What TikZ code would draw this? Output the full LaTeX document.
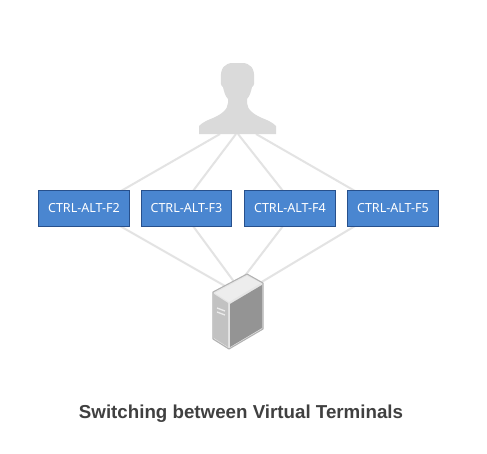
\documentclass[tikz,border=0pt]{standalone}
\usepackage{fontspec}
\usetikzlibrary{backgrounds}
\setmainfont{Noto Sans}
\newfontfamily\titlefont{Liberation Sans}
\definecolor{boxblue}{HTML}{4A86D0}
\definecolor{boxedge}{HTML}{27508C}
\definecolor{linegray}{HTML}{E3E3E3}
\definecolor{persongray}{HTML}{DADADA}
\tikzset{
  x=0.75pt,y=-0.75pt,
  keybox/.style={draw=boxedge,fill=boxblue,line width=0.7pt,minimum width=68pt,minimum height=26.5pt,inner sep=0pt,text height=5.5pt,text depth=0pt,text=white,font=\fontsize{9.4pt}{11pt}\selectfont},
  link/.style={draw=linegray,line width=1.5pt},
  titletext/.style={inner sep=0pt,text=black!75,font=\titlefont\bfseries\fontsize{14.05pt}{17pt}\selectfont}
}
\begin{document}
\begin{tikzpicture}
\useasboundingbox (0,0) rectangle (487,454);
\begin{pgfonlayer}{background}
\fill[white] (0,0) rectangle (487,454);
\end{pgfonlayer}
\coordinate (ua) at (220,134);
\coordinate (ub) at (236,134);
\coordinate (uc) at (238,134);
\coordinate (ud) at (256,134);
\coordinate (sa) at (225,286);
\coordinate (sb) at (235,283);
\coordinate (sc) at (244,277);
\coordinate (sd) at (260,283);
\node[keybox] (f2) at (84,208.5) {CTRL-ALT-F2};
\node[keybox] (f3) at (186.5,208.5) {CTRL-ALT-F3};
\node[keybox] (f4) at (290,208.5) {CTRL-ALT-F4};
\node[keybox] (f5) at (393,208.5) {CTRL-ALT-F5};
\coordinate (ta) at (121,191); \coordinate (ba) at (120,226);
\coordinate (tb) at (193,191); \coordinate (bb) at (193,226);
\coordinate (tc) at (283,191); \coordinate (bc) at (283,226);
\coordinate (td) at (355,191); \coordinate (bd) at (355,226);
\begin{pgfonlayer}{background}
\draw[link] (ua) -- (ta);
\draw[link] (ub) -- (tb);
\draw[link] (uc) -- (tc);
\draw[link] (ud) -- (td);
\draw[link] (ba) -- (sa);
\draw[link] (bb) -- (sb);
\draw[link] (bc) -- (sc);
\draw[link] (bd) -- (sd);
\end{pgfonlayer}
% person
\fill[persongray] (199,134) -- (199,126)
  .. controls (203,122) and (208,120) .. (213,118)
  .. controls (220,115) and (228,110) .. (228,103)
  -- (228,99)
  .. controls (225,96) and (224,91) .. (223,87)
  .. controls (221,86) and (220,82) .. (221,79)
  .. controls (220,68) and (225,63) .. (233,63)
  -- (242,63)
  .. controls (250,63) and (255,68) .. (254,79)
  .. controls (255,82) and (254,86) .. (252,87)
  .. controls (251,91) and (250,96) .. (247,99)
  -- (247,103)
  .. controls (247,110) and (255,115) .. (262,118)
  .. controls (267,120) and (272,122) .. (276,126)
  -- (276,134) -- cycle;
% server
\fill[black!10] (247,274) -- (213,292) -- (213,339) -- (229,349) -- (263,329) -- (263,283) -- cycle;
\fill[black!7] (247,276) -- (215,293) -- (229,302) -- (261,283) -- cycle;
\fill[black!24] (214,294) -- (228,303) -- (228,347) -- (214,338) -- cycle;
\fill[black!42] (230,304) -- (262,285) -- (262,328) -- (230,347) -- cycle;
\draw[black!30,line width=0.8pt,line join=round] (247,274) -- (213,292) -- (213,339) -- (229,349) -- (263,329) -- (263,283) -- cycle;
\draw[black!8,line width=1pt] (217,308) -- (225,311);
\draw[black!8,line width=1pt] (217,312) -- (225,315);
\node[titletext] (title) at (241,413.5) {Switching between Virtual Terminals};
\end{tikzpicture}
\end{document}
